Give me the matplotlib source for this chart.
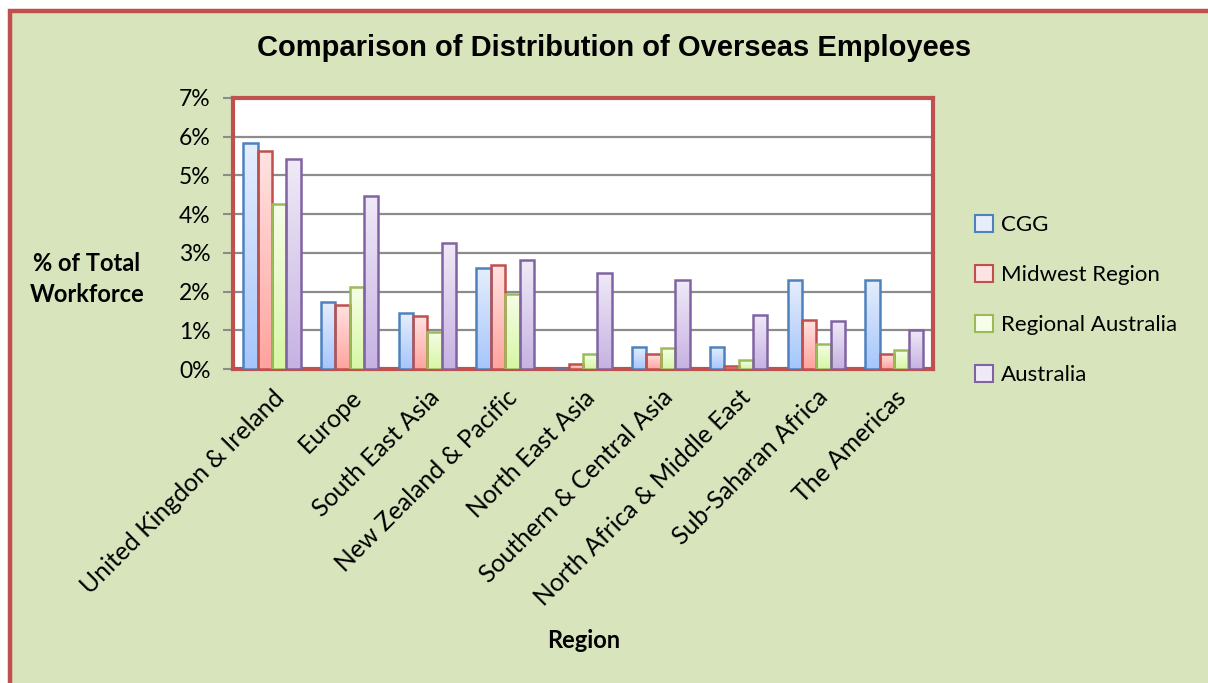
import numpy as np
import matplotlib.pyplot as plt
from matplotlib.colors import LinearSegmentedColormap
from matplotlib.patches import Rectangle, Patch
from matplotlib.ticker import FuncFormatter

# ---------- Daten ----------
regions = [
    "United Kingdon & Ireland",
    "Europe",
    "South East Asia",
    "New Zealand & Pacific",
    "North East Asia",
    "Southern & Central Asia",
    "North Africa & Middle East",
    "Sub-Saharan Africa",
    "The Americas",
]
series = ["CGG", "Midwest Region", "Regional Australia", "Australia"]

cgg = [5.83, 1.73, 1.44, 2.61, 0.0, 0.56, 0.56, 2.31, 2.31]
midwest = [5.63, 1.66, 1.36, 2.69, 0.12, 0.38, 0.07, 1.27, 0.39]
regional = [4.27, 2.11, 0.96, 1.95, 0.38, 0.53, 0.22, 0.65, 0.48]
australia = [5.42, 4.46, 3.25, 2.81, 2.48, 2.31, 1.40, 1.25, 1.02]

# ---------- Farben (Rand, Verlauf oben, Verlauf unten) ----------
edges = ["#4f81bd", "#c0504d", "#9bbb59", "#8064a2"]
tops = ["#e6eefc", "#ffe3e2", "#f6fde8", "#f0eaf7"]
bottoms = ["#a5c6fc", "#ffa39d", "#d6f7a4", "#c6b2e3"]

bg = "#d8e4bc"
red = "#c0504d"

plt.rcParams["font.family"] = ["Lato", "DejaVu Sans"]

fig = plt.figure(figsize=(12.08, 6.83), dpi=100)
fig.patch.set_facecolor("white")

# Rahmen um das Diagramm
frame = Rectangle((9.5 / 1208, -0.1), 1.2, 1.1 - 11.5 / 683,
                  transform=fig.transFigure, facecolor=bg, edgecolor=red,
                  linewidth=3.2, zorder=-1)
fig.patches.append(frame)

ax = fig.add_axes([233 / 1208, 1 - 369 / 683, 700 / 1208, 271 / 683])
ax.set_facecolor("white")

x = np.arange(len(regions))
w = 0.185
data = [cgg, midwest, regional, australia]

for i, vals in enumerate(data):
    cmap = LinearSegmentedColormap.from_list("g%d" % i, [bottoms[i], tops[i]])
    grad = np.linspace(0, 1, 256).reshape(-1, 1)
    pos = x + (i - 1.5) * w
    bars = ax.bar(pos, vals, width=w, facecolor="none", edgecolor=edges[i],
                  linewidth=1.8, zorder=4)
    for b, v in zip(bars, vals):
        if v <= 0:
            continue
        im = ax.imshow(grad, cmap=cmap, origin="lower", aspect="auto",
                       extent=[b.get_x(), b.get_x() + b.get_width(), 0, v],
                       zorder=3)
        im.set_clip_path(b)

ax.set_xlim(-0.5, len(regions) - 0.5)
ax.set_ylim(0, 7)
ax.set_aspect("auto")

ax.set_yticks(range(0, 8))
ax.yaxis.set_major_formatter(FuncFormatter(lambda v, p: "%d%%" % v))
ax.grid(axis="y", color="#8c8c8c", linewidth=1.6, zorder=1)
ax.set_axisbelow(True)

for s in ax.spines.values():
    s.set_color(red)
    s.set_linewidth(3)

ax.tick_params(axis="y", length=7, width=1.5, color="#8c8c8c",
               labelsize=16.5, pad=9)
ax.tick_params(axis="x", length=0, pad=12)
ax.set_xticks(x)
ax.set_xticklabels(regions, rotation=45, ha="right", rotation_mode="anchor",
                   fontsize=17.8)

# ---------- Beschriftung ----------
fig.text(614 / 1208, 1 - 48 / 683,
         "Comparison of Distribution of Overseas Employees",
         ha="center", va="center", fontsize=21, fontweight="bold",
         family="Liberation Sans")
fig.text(87 / 1208, 1 - 279 / 683, "% of Total\nWorkforce", ha="center",
         va="center", fontsize=17, fontweight="bold", linespacing=1.45)
fig.text(584 / 1208, 1 - 640 / 683, "Region", ha="center", va="center",
         fontsize=17, fontweight="bold")

handles = [Patch(facecolor=tops[i], edgecolor=edges[i], linewidth=1.5,
                 label=series[i]) for i in range(4)]
fig.legend(handles=handles, loc="center left",
           bbox_to_anchor=(955 / 1208, 1 - 300 / 683), frameon=False,
           fontsize=16, handlelength=0.8, handleheight=0.8,
           handletextpad=0.35, labelspacing=1.35)

fig.savefig("out.png", dpi=100, facecolor=fig.get_facecolor())
